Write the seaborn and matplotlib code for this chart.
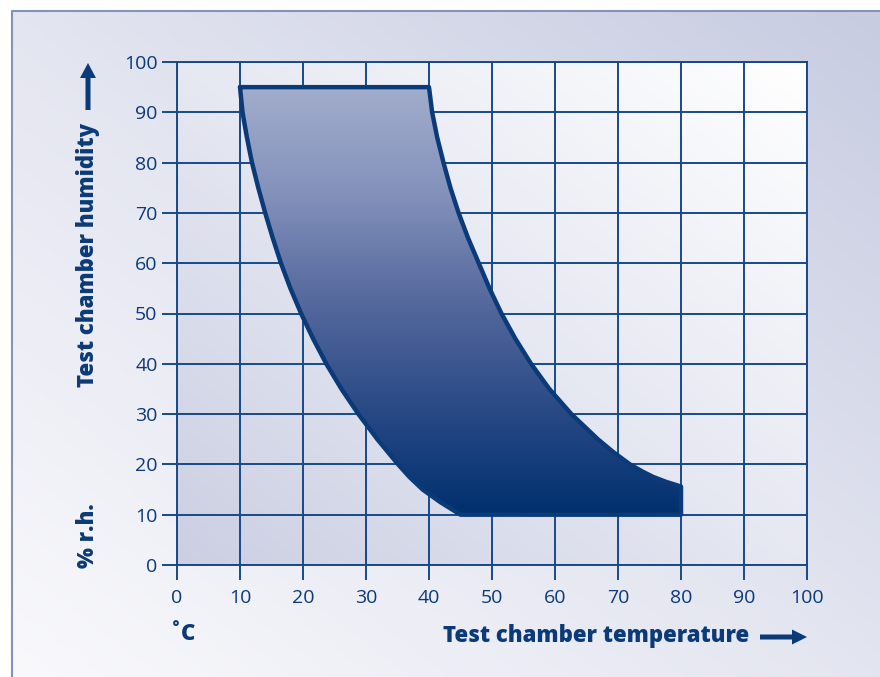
import numpy as np
import pandas as pd
import matplotlib
matplotlib.use("Agg")
import matplotlib.pyplot as plt
from matplotlib.colors import LinearSegmentedColormap
from matplotlib.patches import Polygon
import seaborn as sns

# boundary of the operating range (temperature °C, humidity % r.h.)
left_x = [10, 10.4, 11.1, 11.9, 12.9, 14.0, 15.2, 16.5, 18.0, 19.7, 21.6, 23.7, 26.1, 28.8, 31.8, 35.1, 36.9, 39.0, 41.8, 45]
left_y = [95, 90, 85, 80, 75, 70, 65, 60, 55, 50, 45, 40, 35, 30, 25, 20, 17.5, 15, 12.5, 10]
right_x = [40, 40.5, 41.3, 42.3, 43.4, 44.7, 46.2, 47.9, 49.6, 51.5, 53.7, 56.2, 59.1, 62.6, 66.8, 69.2, 71.9, 74.0, 75.6, 77.7, 80]
right_y = [95, 90, 85, 80, 75, 70, 65, 60, 55, 50, 45, 40, 35, 30, 25, 22.5, 20, 18.5, 17.5, 16.5, 15.6]
bottom_right = (80, 10)

x_ticks = list(range(0, 101, 10))
y_ticks = list(range(0, 101, 10))

navy = "#0b3a78"
grid_c = "#17498a"

sns.set_style("ticks")
plt.rcParams["font.family"] = ["Open Sans", "DejaVu Sans"]

W, H = 880, 677
fig = plt.figure(figsize=(8.8, 6.77), dpi=100)

# background panel in pixel coordinates
bg = fig.add_axes([0, 0, 1, 1], zorder=-10)
bg.axis("off")
gx, gy = np.meshgrid(np.linspace(0, 1, 256), np.linspace(0, 1, 256))
panel_cmap = LinearSegmentedColormap.from_list("panel", ["#f9f9fc", "#e3e5f0", "#c8cce1"])
bg.imshow((gx + 1 - gy) / 2, extent=[12, W, H, 11], origin="upper",
          cmap=panel_cmap, aspect="auto", interpolation="bilinear")
bg.plot([12, 12, W], [H, 11, 11], color="#8494b5", lw=1.5)
bg.set_xlim(0, W)
bg.set_ylim(H, 0)

# main chart
ax = fig.add_axes([177 / W, 1 - 565 / H, 630 / W, 503 / H])
axes_cmap = LinearSegmentedColormap.from_list("axbg", ["#cbcfe2", "#e6e8f2", "#ffffff"])
ax.imshow((gx + gy) / 2, extent=[0, 100, 0, 100], origin="lower",
          cmap=axes_cmap, aspect="auto", zorder=0, interpolation="bilinear")

poly_x = left_x + [bottom_right[0]] + right_x[::-1]
poly_y = left_y + [bottom_right[1]] + right_y[::-1]

patch = Polygon(np.column_stack([poly_x, poly_y]), closed=True,
                facecolor="none", edgecolor="none")
ax.add_patch(patch)
fill_cmap = LinearSegmentedColormap.from_list(
    "fill", ["#00306f", "#2a4a86", "#55699d", "#8391bb", "#a2adcc"])
grad = np.linspace(0, 1, 256).reshape(-1, 1)
im = ax.imshow(grad, extent=[0, 100, 10, 95], origin="lower", cmap=fill_cmap,
               aspect="auto", zorder=2)
im.set_clip_path(patch)

outline = pd.DataFrame({"x": poly_x + [poly_x[0]], "y": poly_y + [poly_y[0]]})
sns.lineplot(data=outline, x="x", y="y", sort=False, estimator=None,
             color=navy, lw=3.2, ax=ax, zorder=3)
ax.lines[-1].set_solid_joinstyle("round")

ax.set_xlim(0, 100)
ax.set_ylim(0, 100)
ax.set_xticks(x_ticks)
ax.set_yticks(y_ticks)
ax.set(xlabel="", ylabel="")
ax.set_axisbelow(True)
ax.grid(True, color=grid_c, lw=1.4)
for s in ax.spines.values():
    s.set_visible(True)
    s.set_color(grid_c)
    s.set_linewidth(1.4)
ax.tick_params(axis="both", direction="out", length=11, width=1.4, color=grid_c,
               labelcolor=navy, labelsize=14)
ax.tick_params(axis="x", pad=6)
ax.tick_params(axis="y", pad=3)

# axis titles and arrows
lab = dict(fontsize=15.9, fontweight=800, color=navy)
bg.text(443, 636, "Test chamber temperature", ha="left", va="center", **lab)
bg.arrow(760, 637, 47, 0, width=5, head_width=15, head_length=15,
         length_includes_head=True, color=navy, lw=0)
bg.text(88, 255, "Test chamber humidity", ha="center", va="center", rotation=90, **lab)
bg.arrow(88, 110, 0, -47, width=5, head_width=16, head_length=15,
         length_includes_head=True, color=navy, lw=0)
bg.text(88, 536, "% r.h.", ha="center", va="center", rotation=90, **lab)
bg.text(183, 634, "˚C", ha="center", va="center", **lab)

fig.savefig("out.png", dpi=100)
